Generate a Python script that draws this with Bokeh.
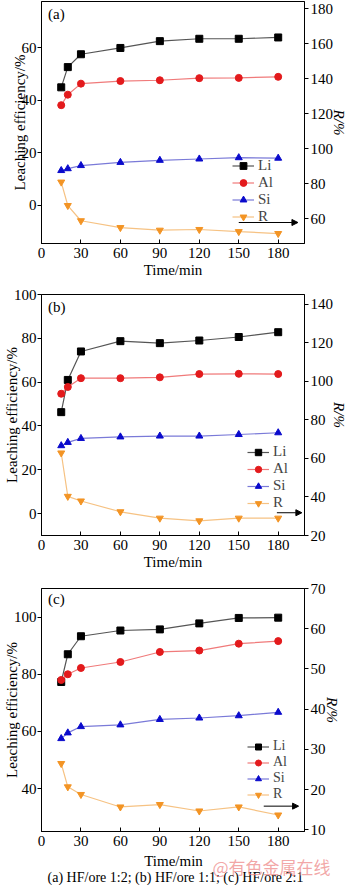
from bokeh.plotting import figure
from bokeh.models import (Range1d, LinearAxis, Legend, LegendItem, Label, Arrow,
                          NormalHead, FixedTicker)
from bokeh.layouts import column
from bokeh.embed import file_html
from bokeh.resources import INLINE

# ---------------- data ----------------
time = [15, 20, 30, 60, 90, 120, 150, 180]
x_ticks = [0, 30, 60, 90, 120, 150, 180]

li_a = [45.0, 52.7, 57.6, 60.0, 62.6, 63.5, 63.5, 64.0]
al_a = [38.2, 42.2, 46.4, 47.4, 47.7, 48.5, 48.6, 49.0]
si_a = [13.3, 14.0, 15.2, 16.4, 17.2, 17.7, 18.2, 18.0]
r_a = [81.0, 67.6, 58.9, 55.0, 53.5, 53.9, 52.7, 51.6]

li_b = [46.3, 61.0, 74.0, 78.7, 77.8, 79.0, 80.6, 82.8]
al_b = [54.7, 57.8, 61.8, 61.8, 62.2, 63.7, 63.8, 63.7]
si_b = [31.0, 32.5, 34.3, 35.0, 35.4, 35.4, 36.1, 36.9]
r_b = [62.8, 40.3, 37.9, 32.3, 29.0, 27.6, 29.0, 29.0]

li_c = [77.3, 87.0, 93.3, 95.3, 95.7, 97.8, 99.7, 99.8]
al_c = [78.0, 80.0, 82.2, 84.3, 87.8, 88.3, 90.7, 91.6]
si_c = [57.5, 59.5, 61.7, 62.3, 64.2, 64.7, 65.5, 66.7]
r_c = [26.5, 20.7, 18.8, 15.7, 16.3, 14.7, 15.7, 13.7]

left_ticks_a = [0, 20, 40, 60]
right_ticks_a = [60, 80, 100, 120, 140, 160, 180]
left_ticks_b = [0, 20, 40, 60, 80, 100]
right_ticks_b = [20, 40, 60, 80, 100, 120, 140]
left_ticks_c = [40, 60, 80, 100]
right_ticks_c = [10, 20, 30, 40, 50, 60, 70]

series_names = ["Li", "Al", "Si", "R"]
x_title = "Time/min"
caption = "(a) HF/ore 1:2; (b) HF/ore 1:1; (c) HF/ore 2:1"
watermark = "@有色金属在线"

FONT = "Liberation Serif"
MARK_COLORS = ["#000000", "#e31a1c", "#0a0acc", "#f39424"]
LINE_COLORS = ["#555555", "#f07a7a", "#7a7ad8", "#f6c283"]
MARKERS = ["square", "circle", "triangle", "inverted_triangle"]


def make_panel(tag, li, al, si, r, yl, yr, lt, rt, height, btop, bbot,
               leg_loc, leg_h, leg_fs, arrow_x, arrow_y, tag_off, show_xlabel=True):
    p = figure(width=350, height=height, output_backend="svg", toolbar_location=None,
               x_range=Range1d(0, 200), y_range=Range1d(*yl),
               min_border_left=41, min_border_right=46,
               min_border_top=btop, min_border_bottom=bbot)
    p.extra_y_ranges = {"r": Range1d(*yr)}
    p.grid.visible = False
    p.outline_line_color = "black"
    p.outline_line_width = 1
    p.background_fill_color = "white"

    xa = p.xaxis[0]
    xa.ticker = FixedTicker(ticks=x_ticks)
    if show_xlabel:
        xa.axis_label = x_title
    xa.major_tick_in = 4
    xa.major_tick_out = 0
    xa.minor_tick_line_color = None
    xa.major_label_standoff = 4
    xa.axis_label_standoff = 1

    ya = p.yaxis[0]
    ya.ticker = FixedTicker(ticks=lt)
    ya.axis_label = "Leaching efficiency/%"
    ya.major_tick_in = 0
    ya.major_tick_out = 4
    ya.minor_tick_line_color = None
    ya.major_label_standoff = 1
    ya.axis_label_standoff = -9

    ra = LinearAxis(y_range_name="r", ticker=FixedTicker(ticks=rt), axis_label="R/%")
    ra.major_tick_in = 0
    ra.major_tick_out = 4
    ra.minor_tick_line_color = None
    ra.major_label_standoff = 2
    ra.axis_label_standoff = -5
    p.add_layout(ra, "right")

    for ax in [xa, ya, ra]:
        ax.axis_line_color = "black"
        ax.major_tick_line_color = "black"
        ax.major_label_text_font = FONT
        ax.major_label_text_font_size = "15px"
        ax.major_label_text_color = "black"
        ax.axis_label_text_font = FONT
        ax.axis_label_text_font_size = "15px"
        ax.axis_label_text_color = "black"
        ax.axis_label_text_font_style = "normal"
    ra.axis_label_text_font_style = "italic"

    items = []
    for i, (name, vals) in enumerate(zip(series_names, [li, al, si, r])):
        kw = {"y_range_name": "r"} if name == "R" else {}
        ln = p.line(time, vals, line_color=LINE_COLORS[i], line_width=1.2, **kw)
        mk = p.scatter(time, vals, marker=MARKERS[i], size=7,
                       fill_color=MARK_COLORS[i], line_color=MARK_COLORS[i], **kw)
        items.append(LegendItem(label=name, renderers=[ln, mk]))

    leg = Legend(items=items, location=leg_loc, border_line_alpha=0,
                 background_fill_alpha=0, padding=0, margin=0, spacing=0,
                 glyph_width=22, glyph_height=leg_h, label_height=leg_h,
                 label_standoff=4, label_text_font=FONT, label_text_font_size=leg_fs)
    p.add_layout(leg)

    p.add_layout(Arrow(end=NormalHead(size=6, fill_color="black", line_color="black"),
                       x_start=arrow_x[0], x_end=arrow_x[1], y_start=arrow_y, y_end=arrow_y,
                       y_range_name="r", line_color="black", line_width=1))

    p.add_layout(Label(x=5, y=yl[1], y_offset=-tag_off, text=tag, text_font=FONT,
                       text_font_size="15px", text_baseline="top", text_color="black"))
    return p


pa = make_panel("(a)", li_a, al_a, si_a, r_a, (-14.5, 77.7), (45.9, 184.2),
                left_ticks_a, right_ticks_a, 287, 1, 44,
                (191, 18), 17, "15px", (150, 195), 57.9, 4)
pb = make_panel("(b)", li_b, al_b, si_b, r_b, (-10, 100), (20, 145),
                left_ticks_b, right_ticks_b, 288, 7, 40,
                (206, 24), 16, "15px", (179, 198), 31.8, 4)
pc = make_panel("(c)", li_c, al_c, si_c, r_c, (25, 110), (9.6, 70),
                left_ticks_c, right_ticks_c, 278, 13, 22,
                (206, 29), 15, "14px", (169, 195.5), 15.9, 2, show_xlabel=False)

# bottom strip: x title of panel (c), caption and watermark
ps = figure(width=350, height=32, output_backend="svg", toolbar_location=None,
            x_range=Range1d(0, 350), y_range=Range1d(0, 32),
            x_axis_type=None, y_axis_type=None, min_border=0)
try:
    ps.frame_align = False
except Exception:
    pass
ps.grid.visible = False
ps.outline_line_color = None
ps.add_layout(Label(x=173, y=25, text=x_title, text_align="center", text_baseline="middle",
                    text_font=FONT, text_font_size="15px", text_color="black"))
ps.add_layout(Label(x=175, y=8, text=caption, text_align="center", text_baseline="middle",
                    text_font=FONT, text_font_size="14px", text_color="black"))
ps.add_layout(Label(x=212, y=19, text=watermark, text_align="left", text_baseline="middle",
                    text_font="Noto Sans CJK SC", text_font_size="17px",
                    text_color="#ee8a8a", text_alpha=0.75))

layout = column(pa, pb, pc, ps, spacing=0)
open("out.html", "w").write(file_html(layout, INLINE))
